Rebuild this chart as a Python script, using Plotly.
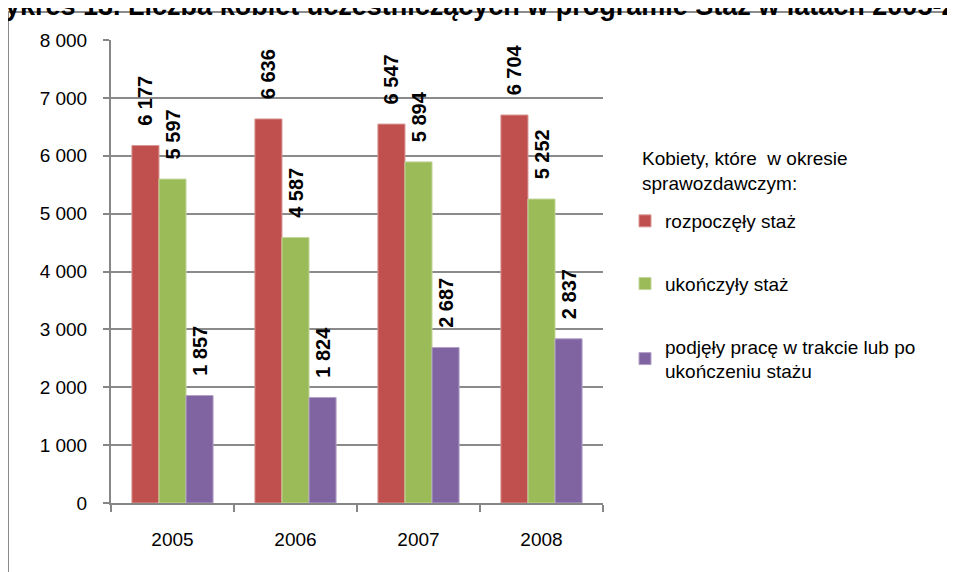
import plotly.graph_objects as go

years = ["2005", "2006", "2007", "2008"]
rozpoczely = [6177, 6636, 6547, 6704]
ukonczyly = [5597, 4587, 5894, 5252]
podjely = [1857, 1824, 2687, 2837]

series_names = [
    "rozpoczęły staż",
    "ukończyły staż",
    "podjęły pracę w trakcie lub po<br>ukończeniu stażu",
]
series_colors = ["#C0504D", "#9BBB59", "#8064A2"]
series_lines = ["#D99694", "#C3D69B", "#B3A2C7"]

y_tickvals = [0, 1000, 2000, 3000, 4000, 5000, 6000, 7000, 8000]
y_ticktext = ["0", "1 000", "2 000", "3 000", "4 000", "5 000", "6 000", "7 000", "8 000"]

legend_title = "Kobiety, które  w okresie<br>sprawozdawczym:"
chart_title = "Wykres 13. Liczba kobiet uczestniczących w programie Staż w latach 2005-2008"

FONT = "Liberation Sans, Arial, sans-serif"

# page body adds an 8px margin; work in figure coordinates = reference - 8
OFF = 8
W, H = 947, 564
PL, PR, PT, PB = 111 - OFF, 603 - OFF, 40 - OFF, 503 - OFF   # plot area in fig px
L, R, T, B = PL, W - PR, PT, H - PB
pw, ph = PR - PL, PB - PT


def px_x(p):
    return (p - OFF - PL) / pw


def px_y(p):
    return (PB - (p - OFF)) / ph


def fmt(v):
    return "\u00a0\u00a0\u00a0" + f"{v:,}".replace(",", " ")


fig = go.Figure()
for i, (name, vals) in enumerate(zip(series_names, [rozpoczely, ukonczyly, podjely])):
    fig.add_trace(go.Bar(
        x=years, y=vals, name=name,
        marker=dict(color=series_colors[i], line=dict(color=series_lines[i], width=1)),
        text=[fmt(v) for v in vals],
        textposition="outside", textangle=-90, constraintext="none", cliponaxis=False,
        textfont=dict(family=FONT, size=20, color="black", weight="bold"),
        legendgroup=f"g{i}",
    ))

fig.update_layout(
    width=W, height=H,
    margin=dict(l=L, r=R, t=T, b=B, pad=0),
    paper_bgcolor="white", plot_bgcolor="white",
    barmode="group", bargap=0.34, bargroupgap=0,
    font=dict(family=FONT, size=19, color="black"),
    showlegend=True,
    legend=dict(
        x=px_x(625), y=px_y(202), xref="paper", yref="paper",
        xanchor="left", yanchor="top",
        font=dict(size=19, family=FONT), tracegroupgap=35,
        bgcolor="rgba(0,0,0,0)", itemwidth=30,
    ),
    xaxis=dict(
        showgrid=False, showline=True, linecolor="#868686", linewidth=2,
        ticks="outside", ticklen=7, tickcolor="#868686", tickwidth=1.5,
        tickson="boundaries", ticklabelstandoff=18,
        tickfont=dict(size=19, family=FONT, color="black"),
    ),
    yaxis=dict(
        range=[0, 8000], tickvals=y_tickvals, ticktext=y_ticktext,
        showgrid=True, gridcolor="#8a8a8a", gridwidth=1.5,
        showline=True, linecolor="#868686", linewidth=2,
        ticks="outside", ticklen=6, tickcolor="#868686", tickwidth=1.5,
        ticklabelstandoff=12, zeroline=False,
        tickfont=dict(size=19, family=FONT, color="black"),
    ),
    shapes=[
        dict(type="rect", xref="paper", yref="paper",
             x0=px_x(8), x1=px_x(1200), y0=px_y(800), y1=px_y(12),
             line=dict(color="#8c8c8c", width=2), fillcolor="rgba(0,0,0,0)", layer="below"),
    ],
    annotations=[
        dict(text=chart_title, xref="paper", yref="paper",
             x=px_x(-22), y=px_y(23), xanchor="left", yanchor="bottom",
             showarrow=False, font=dict(size=27, family=FONT, color="black", weight="bold")),
        dict(text=legend_title, xref="paper", yref="paper", align="left",
             x=px_x(640), y=px_y(146), xanchor="left", yanchor="top",
             showarrow=False, font=dict(size=19, family=FONT, color="black")),
    ],
)

fig.write_html("out.html")
